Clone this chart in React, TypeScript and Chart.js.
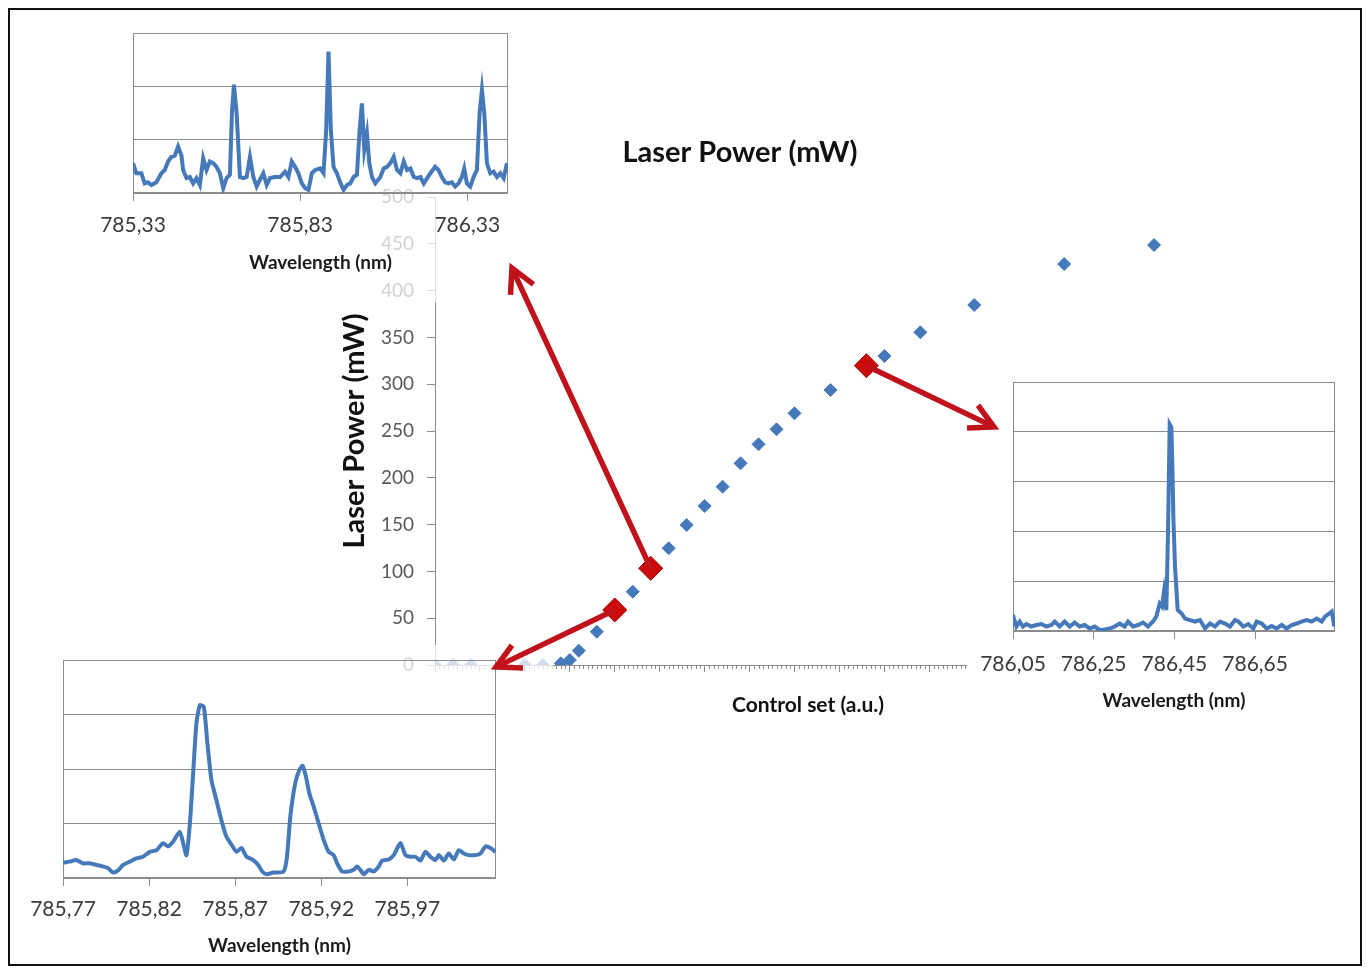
import React, { useEffect, useRef } from "react";
import { Chart, registerables } from "chart.js";
Chart.register(...registerables);

// ---------------- DATA ----------------
// Main chart: laser power vs control set
const CONTROL = [0, 4, 8, 20, 24, 28, 30, 32, 36, 44, 52, 56, 60, 64, 68, 72, 76, 80, 88, 100, 108, 120, 140, 160];
const POWER = [0, 0, 0, 0, 0, 1.8, 5.3, 15.3, 35.6, 78.3, 124.7, 149.6, 169.9, 190.5, 215.5, 235.8, 251.8, 268.9, 293.8, 330.1, 355.4, 384.6, 428.4, 448.7];
const HIGHLIGHT_CONTROL = [40, 48, 96];
const HIGHLIGHT_POWER = [58.8, 103.3, 319.8];
const MAIN_TITLE = "Laser Power (mW)";
const MAIN_X_TITLE = "Control set (a.u.)";
const MAIN_Y_TITLE = "Laser Power (mW)";

// Top-left inset spectrum
const TL_WL = [785.330, 785.340, 785.355, 785.365, 785.375, 785.385, 785.400, 785.415, 785.425, 785.435, 785.445, 785.455, 785.465, 785.475, 785.480, 785.490, 785.500, 785.510, 785.520, 785.530, 785.540, 785.550, 785.560, 785.570, 785.580, 785.590, 785.600, 785.610, 785.620, 785.626, 785.632, 785.640, 785.650, 785.660, 785.670, 785.680, 785.690, 785.700, 785.710, 785.720, 785.730, 785.740, 785.755, 785.770, 785.785, 785.795, 785.805, 785.815, 785.825, 785.835, 785.845, 785.855, 785.865, 785.875, 785.890, 785.900, 785.908, 785.915, 785.922, 785.930, 785.940, 785.950, 785.960, 785.970, 785.980, 785.990, 786.000, 786.008, 786.015, 786.022, 786.030, 786.037, 786.045, 786.055, 786.070, 786.080, 786.090, 786.100, 786.110, 786.120, 786.130, 786.140, 786.150, 786.160, 786.170, 786.180, 786.190, 786.200, 786.210, 786.220, 786.234, 786.244, 786.254, 786.264, 786.274, 786.284, 786.294, 786.304, 786.314, 786.321, 786.329, 786.339, 786.349, 786.359, 786.367, 786.374, 786.381, 786.389, 786.399, 786.409, 786.419, 786.429, 786.439, 786.449];
const TL_INT = [0.56, 0.37, 0.37, 0.18, 0.20, 0.15, 0.20, 0.37, 0.43, 0.59, 0.68, 0.70, 0.87, 0.70, 0.43, 0.28, 0.30, 0.18, 0.28, 0.15, 0.65, 0.43, 0.59, 0.56, 0.49, 0.37, 0.09, 0.28, 0.34, 1.50, 2.03, 1.50, 0.30, 0.28, 0.30, 0.68, 0.30, 0.12, 0.25, 0.37, 0.15, 0.28, 0.30, 0.30, 0.40, 0.30, 0.59, 0.49, 0.37, 0.18, 0.09, 0.06, 0.37, 0.43, 0.46, 0.37, 1.18, 2.65, 1.18, 0.49, 0.37, 0.20, 0.06, 0.15, 0.18, 0.30, 0.34, 1.18, 1.68, 0.81, 1.12, 0.56, 0.30, 0.18, 0.30, 0.46, 0.49, 0.56, 0.68, 0.43, 0.37, 0.59, 0.43, 0.46, 0.30, 0.28, 0.30, 0.18, 0.28, 0.37, 0.49, 0.43, 0.30, 0.20, 0.18, 0.20, 0.12, 0.18, 0.30, 0.46, 0.18, 0.12, 0.30, 0.43, 1.50, 1.93, 1.50, 0.56, 0.37, 0.40, 0.30, 0.37, 0.28, 0.56];
const TL_TICKS = [785.33, 785.83, 786.33];
const TL_LABELS = ["785,33", "785,83", "786,33"];

// Lower-left inset spectrum
const LL_WL = [785.7700, 785.7739, 785.7777, 785.7816, 785.7855, 785.7894, 785.7933, 785.7962, 785.7991, 785.8020, 785.8049, 785.8088, 785.8126, 785.8165, 785.8204, 785.8243, 785.8281, 785.8310, 785.8340, 785.8378, 785.8398, 785.8417, 785.8437, 785.8456, 785.8475, 785.8495, 785.8518, 785.8537, 785.8562, 785.8591, 785.8620, 785.8649, 785.8679, 785.8708, 785.8737, 785.8766, 785.8805, 785.8834, 785.8857, 785.8882, 785.8921, 785.8981, 785.9001, 785.9020, 785.9049, 785.9073, 785.9092, 785.9111, 785.9131, 785.9156, 785.9185, 785.9214, 785.9243, 785.9272, 785.9292, 785.9321, 785.9359, 785.9388, 785.9408, 785.9427, 785.9447, 785.9476, 785.9505, 785.9534, 785.9553, 785.9592, 785.9621, 785.9660, 785.9689, 785.9718, 785.9747, 785.9776, 785.9805, 785.9834, 785.9863, 785.9883, 785.9912, 785.9941, 785.9970, 785.9999, 786.0028, 786.0057, 786.0096, 786.0125, 786.0154, 786.0183, 786.0212];
const LL_INT = [0.28, 0.30, 0.33, 0.27, 0.27, 0.24, 0.21, 0.18, 0.10, 0.14, 0.24, 0.30, 0.36, 0.39, 0.48, 0.51, 0.64, 0.58, 0.67, 0.85, 0.64, 0.42, 1.00, 1.92, 2.84, 3.17, 3.14, 2.53, 1.80, 1.43, 1.06, 0.76, 0.61, 0.48, 0.55, 0.39, 0.33, 0.24, 0.12, 0.07, 0.10, 0.12, 0.39, 1.12, 1.74, 1.98, 2.06, 1.86, 1.55, 1.31, 1.00, 0.70, 0.48, 0.42, 0.27, 0.12, 0.12, 0.15, 0.21, 0.15, 0.07, 0.15, 0.12, 0.21, 0.32, 0.34, 0.42, 0.64, 0.42, 0.39, 0.39, 0.32, 0.48, 0.39, 0.33, 0.42, 0.32, 0.45, 0.34, 0.51, 0.45, 0.42, 0.42, 0.45, 0.58, 0.55, 0.48];
const LL_TICKS = [785.77, 785.82, 785.87, 785.92, 785.97];
const LL_LABELS = ["785,77", "785,82", "785,87", "785,92", "785,97"];

// Right inset spectrum
const R_WL = [786.0500, 786.0583, 786.0665, 786.0748, 786.0830, 786.0954, 786.1078, 786.1202, 786.1326, 786.1450, 786.1533, 786.1657, 786.1780, 786.1904, 786.2028, 786.2152, 786.2276, 786.2400, 786.2524, 786.2648, 786.2772, 786.2896, 786.3020, 786.3143, 786.3267, 786.3350, 786.3474, 786.3598, 786.3722, 786.3846, 786.3970, 786.4052, 786.4135, 786.4193, 786.4242, 786.4300, 786.4341, 786.4383, 786.4424, 786.4450, 786.4474, 786.4515, 786.4581, 786.4680, 786.4763, 786.4887, 786.5011, 786.5134, 786.5258, 786.5382, 786.5506, 786.5630, 786.5754, 786.5878, 786.6002, 786.6084, 786.6208, 786.6332, 786.6456, 786.6539, 786.6663, 786.6787, 786.6911, 786.7034, 786.7158, 786.7282, 786.7406, 786.7530, 786.7654, 786.7778, 786.7902, 786.8026, 786.8150, 786.8232, 786.8331, 786.8398, 786.8464];
const R_INT = [0.32, 0.09, 0.19, 0.09, 0.14, 0.09, 0.12, 0.14, 0.09, 0.12, 0.19, 0.09, 0.19, 0.09, 0.17, 0.09, 0.12, 0.05, 0.09, 0.02, 0.03, 0.05, 0.09, 0.15, 0.09, 0.19, 0.09, 0.12, 0.17, 0.09, 0.19, 0.29, 0.55, 0.49, 0.79, 0.42, 1.96, 4.15, 4.09, 3.30, 2.29, 1.29, 0.42, 0.35, 0.25, 0.22, 0.19, 0.22, 0.05, 0.15, 0.09, 0.19, 0.15, 0.09, 0.22, 0.19, 0.09, 0.14, 0.05, 0.19, 0.15, 0.05, 0.10, 0.05, 0.12, 0.05, 0.12, 0.15, 0.19, 0.22, 0.19, 0.25, 0.19, 0.29, 0.35, 0.39, 0.09];
const R_TICKS = [786.05, 786.25, 786.45, 786.65];
const R_LABELS = ["786,05", "786,25", "786,45", "786,65"];

const WAVELENGTH_TITLE = "Wavelength (nm)";

// ---------------- STYLE / LAYOUT ----------------
const FONT = "Lato, 'Open Sans', sans-serif";
const BLUE = "#4579ba";
const RED = "#cc0a0a";
const DARK_RED = "#9a0000";
const ARROW = "#c0121a";
const GRID = "#8c8c8c";
const W = 1354;
const H = 958;

type InsetSpec = {
  left: number; top: number; width: number; height: number;
  pad: { left: number; right: number; top: number };
  xHeight: number; tickPad: number; titlePad: number;
  bg: string; xMin: number; xMax: number; yMax: number;
  ticks: number[]; labels: string[]; wl: number[]; intensity: number[];
  tension: number;
};

const TL: InsetSpec = {
  left: 12, top: 7, width: 502, height: 287,
  pad: { left: 113, right: 14, top: 18 }, xHeight: 109, tickPad: 12, titlePad: 28,
  bg: "rgba(255,255,255,0.72)", xMin: 785.33, xMax: 786.452, yMax: 3,
  ticks: TL_TICKS, labels: TL_LABELS, wl: TL_WL, intensity: TL_INT, tension: 0,
};
const LL: InsetSpec = {
  left: 2, top: 637, width: 543, height: 318,
  pad: { left: 53, right: 57, top: 15 }, xHeight: 85, tickPad: 11, titlePad: 6,
  bg: "rgba(255,255,255,0.75)", xMin: 785.77, xMax: 786.0215, yMax: 4,
  ticks: LL_TICKS, labels: LL_LABELS, wl: LL_WL, intensity: LL_INT, tension: 0.2,
};
const RR: InsetSpec = {
  left: 959, top: 360, width: 378, height: 350,
  pad: { left: 46, right: 10, top: 14 }, xHeight: 87, tickPad: 13, titlePad: 6,
  bg: "#ffffff", xMin: 786.05, xMax: 786.848, yMax: 5,
  ticks: R_TICKS, labels: R_LABELS, wl: R_WL, intensity: R_INT, tension: 0,
};

// arrow tips (container coordinates) – annotation positions pointing at the insets
const ARROW_TIPS = [
  { from: 1, tip: [504, 260] }, // from highlight index 1 to top-left inset
  { from: 0, tip: [488, 659] }, // from highlight index 0 to lower-left inset
  { from: 2, tip: [986, 419] }, // from highlight index 2 to right inset
];

const plotBox = {
  id: "plotBox",
  beforeDatasetsDraw(chart: any) {
    const { ctx, chartArea: a } = chart;
    ctx.save();
    ctx.strokeStyle = GRID;
    ctx.lineWidth = 1;
    ctx.strokeRect(Math.round(a.left) + 0.5, Math.round(a.top) + 0.5, Math.round(a.right - a.left) - 1, Math.round(a.bottom - a.top) - 1);
    ctx.restore();
  },
};

const minorTicks = {
  id: "minorTicks",
  afterDraw(chart: any) {
    const xs = chart.scales.x;
    const { ctx, chartArea } = chart;
    ctx.save();
    ctx.strokeStyle = GRID;
    ctx.lineWidth = 1;
    ctx.beginPath();
    for (let v = Math.ceil(xs.min); v <= xs.max; v += 1) {
      if (v % 10 === 0) continue;
      const px = Math.round(xs.getPixelForValue(v)) + 0.5;
      ctx.moveTo(px, chartArea.bottom);
      ctx.lineTo(px, chartArea.bottom + 4);
    }
    ctx.stroke();
    ctx.restore();
  },
};

function insetConfig(s: InsetSpec): any {
  return {
    type: "line",
    data: {
      datasets: [
        {
          data: s.wl.map((x, i) => ({ x, y: s.intensity[i] })),
          borderColor: BLUE,
          borderWidth: 4,
          pointRadius: 0,
          tension: s.tension,
          fill: false,
        },
      ],
    },
    options: {
      animation: false,
      responsive: false,
      devicePixelRatio: 1,
      events: [],
      layout: { padding: { left: s.pad.left, right: s.pad.right, top: s.pad.top, bottom: 0 } },
      plugins: { legend: { display: false }, tooltip: { enabled: false }, title: { display: false } },
      scales: {
        x: {
          type: "linear",
          min: s.xMin,
          max: s.xMax,
          afterBuildTicks: (sc: any) => {
            sc.ticks = s.ticks.map((v) => ({ value: v }));
          },
          afterFit: (sc: any) => {
            sc.height = s.xHeight;
          },
          ticks: {
            callback: (_v: any, i: number) => s.labels[i],
            font: { family: FONT, size: 21 },
            color: "#3a3a3a",
            padding: s.tickPad,
            autoSkip: false,
            maxRotation: 0,
          },
          grid: { drawOnChartArea: false, tickLength: 8, color: GRID },
          border: { display: false },
          title: {
            display: true,
            text: WAVELENGTH_TITLE,
            font: { family: FONT, size: 19, weight: "bold" },
            color: "#1a1a1a",
            padding: { top: 0, bottom: s.titlePad },
          },
        },
        y: {
          min: 0,
          max: s.yMax,
          afterFit: (sc: any) => {
            sc.width = 0;
          },
          ticks: { display: false, stepSize: 1 },
          grid: { color: GRID, drawTicks: false, lineWidth: 1 },
          border: { display: false },
        },
      },
    },
    plugins: [plotBox],
  };
}

function drawArrow(ctx: CanvasRenderingContext2D, x1: number, y1: number, x2: number, y2: number) {
  const ang = Math.atan2(y2 - y1, x2 - x1);
  const L = 27;
  const a = (28 * Math.PI) / 180;
  ctx.beginPath();
  ctx.moveTo(x1, y1);
  ctx.lineTo(x2 - 2 * Math.cos(ang), y2 - 2 * Math.sin(ang));
  ctx.stroke();
  ctx.beginPath();
  ctx.moveTo(x2 - L * Math.cos(ang - a), y2 - L * Math.sin(ang - a));
  ctx.lineTo(x2, y2);
  ctx.lineTo(x2 - L * Math.cos(ang + a), y2 - L * Math.sin(ang + a));
  ctx.stroke();
}

export default function App() {
  const mainRef = useRef<HTMLCanvasElement>(null);
  const tlRef = useRef<HTMLCanvasElement>(null);
  const llRef = useRef<HTMLCanvasElement>(null);
  const rRef = useRef<HTMLCanvasElement>(null);
  const arrowRef = useRef<HTMLCanvasElement>(null);

  useEffect(() => {
    document.documentElement.style.overflow = "hidden";
    document.body.style.overflow = "hidden";

    const main = new Chart(mainRef.current!, {
      type: "scatter",
      data: {
        datasets: [
          {
            data: HIGHLIGHT_CONTROL.map((x, i) => ({ x, y: HIGHLIGHT_POWER[i] })),
            pointStyle: "rectRot",
            pointRadius: 12,
            backgroundColor: RED,
            borderColor: DARK_RED,
            borderWidth: 1,
          },
          {
            data: CONTROL.map((x, i) => ({ x, y: POWER[i] })),
            pointStyle: "rectRot",
            pointRadius: 6.5,
            backgroundColor: BLUE,
            borderColor: BLUE,
            borderWidth: 1,
          },
        ],
      },
      options: {
        animation: false,
        responsive: false,
        devicePixelRatio: 1,
        events: [],
        layout: { padding: { left: 291, right: 181, top: 100, bottom: H - 717 } },
        plugins: {
          legend: { display: false },
          tooltip: { enabled: false },
          title: {
            display: true,
            text: MAIN_TITLE,
            font: { family: FONT, size: 29, weight: "bold" },
            color: "#111111",
            padding: { top: 27.6, bottom: 26.6 },
          },
        },
        scales: {
          x: {
            type: "linear",
            min: 0,
            max: 166,
            afterFit: (sc: any) => {
              sc.height = 60;
            },
            ticks: { display: false, stepSize: 10, includeBounds: false },
            grid: { drawOnChartArea: false, tickLength: 7, color: GRID },
            border: { color: GRID },
            title: {
              display: true,
              text: MAIN_X_TITLE,
              font: { family: FONT, size: 21, weight: "bold" },
              color: "#111111",
              padding: { top: 0, bottom: 7.4 },
            },
          },
          y: {
            min: 0,
            max: 500,
            afterFit: (sc: any) => {
              sc.width = 136;
            },
            ticks: { stepSize: 50, font: { family: FONT, size: 19 }, color: "#595959", padding: 13 },
            grid: { drawOnChartArea: false, tickLength: 8, color: GRID },
            border: { color: GRID },
            title: {
              display: true,
              text: MAIN_Y_TITLE,
              font: { family: FONT, size: 29, weight: "bold" },
              color: "#111111",
              padding: { top: 38.6, bottom: 0 },
            },
          },
        },
      },
      plugins: [minorTicks],
    } as any);

    const tl = new Chart(tlRef.current!, insetConfig(TL));
    const ll = new Chart(llRef.current!, insetConfig(LL));
    const rr = new Chart(rRef.current!, insetConfig(RR));

    // arrows from highlighted points (positions via main chart scales) to the insets
    const actx = arrowRef.current!.getContext("2d")!;
    actx.clearRect(0, 0, W, H);
    actx.save();
    actx.strokeStyle = ARROW;
    actx.lineWidth = 5.5;
    actx.lineJoin = "miter";
    actx.lineCap = "butt";
    const xs = main.scales.x;
    const ys = main.scales.y;
    ARROW_TIPS.forEach((a) => {
      const sx = xs.getPixelForValue(HIGHLIGHT_CONTROL[a.from]);
      const sy = ys.getPixelForValue(HIGHLIGHT_POWER[a.from]);
      drawArrow(actx, sx, sy, a.tip[0], a.tip[1]);
    });
    actx.restore();
    // outer frame
    actx.save();
    actx.strokeStyle = "#111111";
    actx.lineWidth = 2;
    actx.strokeRect(1, 1, W - 2, H - 2);
    actx.restore();

    return () => {
      main.destroy();
      tl.destroy();
      ll.destroy();
      rr.destroy();
    };
  }, []);

  const insetStyle = (s: InsetSpec): React.CSSProperties => ({
    position: "absolute",
    left: s.left,
    top: s.top,
    width: s.width,
    height: s.height,
    background: s.bg,
  });

  return (
    <div style={{ position: "relative", width: W, height: H, background: "#ffffff" }}>
      <canvas ref={mainRef} width={W} height={H} style={{ position: "absolute", left: 0, top: 0, width: W, height: H }} />
      <canvas ref={tlRef} width={TL.width} height={TL.height} style={insetStyle(TL)} />
      <canvas ref={llRef} width={LL.width} height={LL.height} style={insetStyle(LL)} />
      <canvas ref={rRef} width={RR.width} height={RR.height} style={insetStyle(RR)} />
      <canvas ref={arrowRef} width={W} height={H} style={{ position: "absolute", left: 0, top: 0, width: W, height: H, pointerEvents: "none" }} />
    </div>
  );
}
